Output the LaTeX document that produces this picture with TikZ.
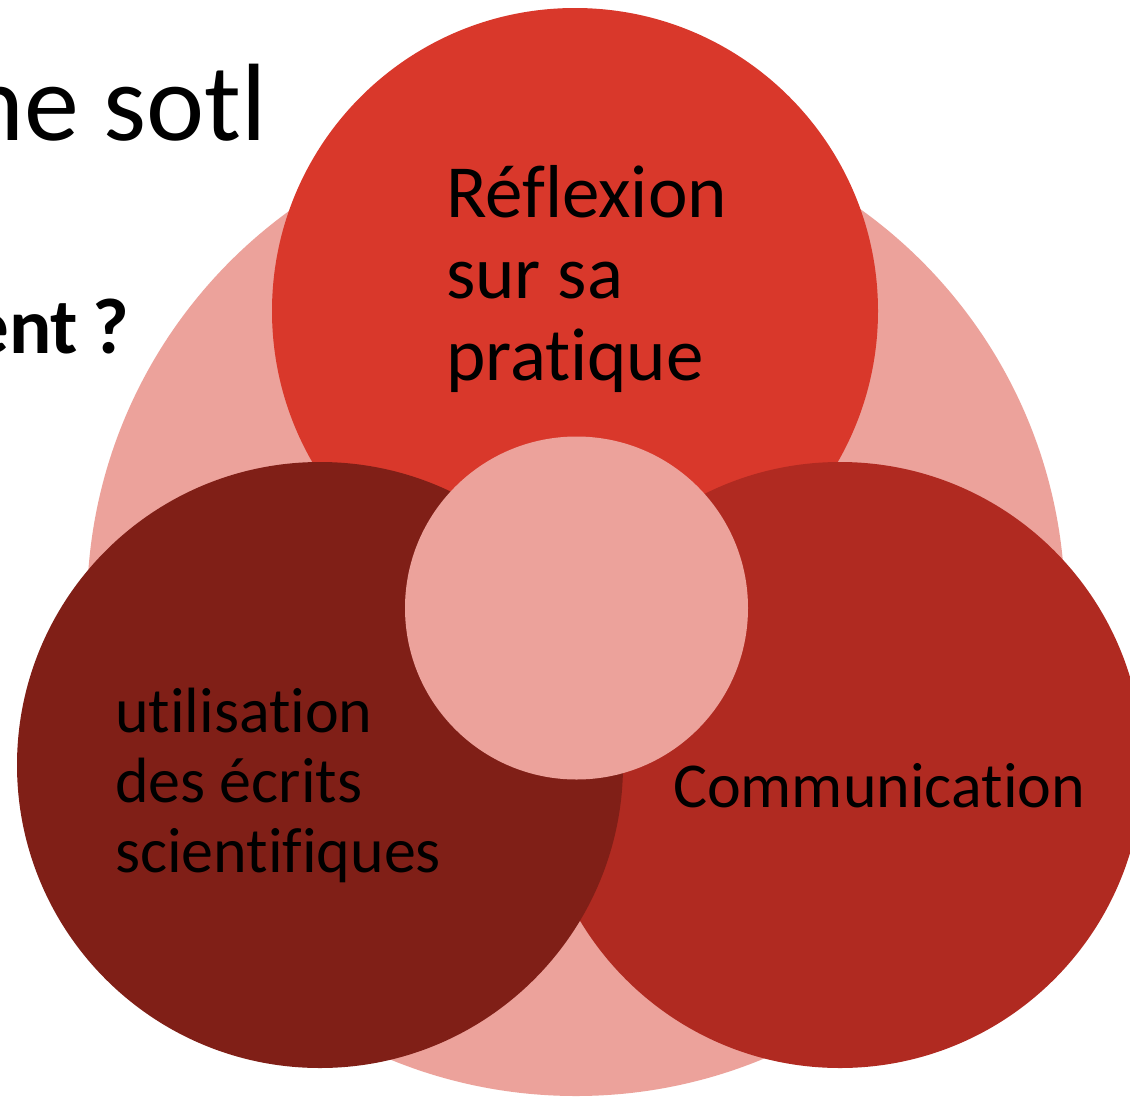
\documentclass[tikz,border=0pt]{standalone}
\usepackage{fontspec}
\setmainfont{Carlito}[Ligatures=NoCommon]
\definecolor{pinkbg}{HTML}{ECA29B}
\definecolor{topred}{HTML}{D9382B}
\definecolor{darkred}{HTML}{801F17}
\definecolor{midred}{HTML}{B02A21}
\tikzset{
  disc/.style={fill=#1, draw=none},
  lbl/.style={anchor=base west, inner sep=0pt, outer sep=0pt, align=left, text=black}
}
\begin{document}
\begin{tikzpicture}[x=1pt,y=-1pt]
\useasboundingbox (0,0) rectangle (1130,1098);
\clip (0,0) rectangle (1130,1098);
\fill[white] (0,0) rectangle (1130,1098);
% title fragments
\node[anchor=base east, inner sep=0pt, font=\fontsize{110}{132}\selectfont] (title) at (267,140) {ne sotl};
\node[anchor=base east, inner sep=0pt, font=\fontsize{79}{96}\selectfont\bfseries] (question) at (129,353) {ent\hspace{14pt}?};
% circles
\fill[disc=pinkbg] (576,607) circle[radius=489pt];
\fill[disc=topred] (575,311) circle[radius=303pt];
\fill[disc=midred] (840,765) circle[radius=303pt];
\fill[disc=darkred] (320,765) circle[radius=303pt];
\fill[disc=pinkbg] (576.5,608) circle[radius=171.5pt];
% labels
\node[lbl, font=\fontsize{75}{81.5}\selectfont] (reflexion) at (446,380) {Réflexion\\sur sa\\pratique};
\node[lbl, font=\fontsize{64}{70}\selectfont] (ecrits) at (115,872) {utilisation\\des écrits\\scientifiques};
\node[lbl, font=\fontsize{64}{70}\selectfont] (comm) at (673,807) {Communication};
\end{tikzpicture}
\end{document}
